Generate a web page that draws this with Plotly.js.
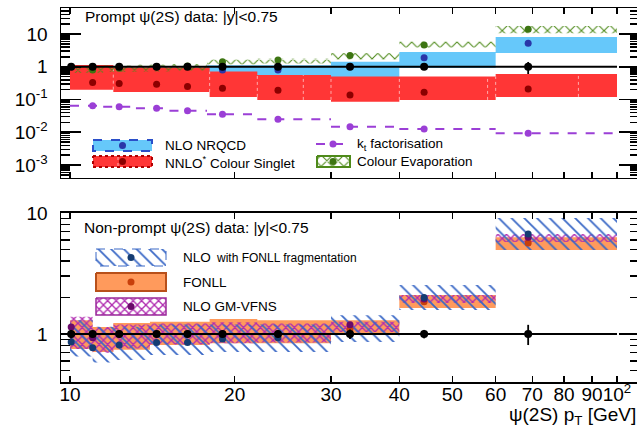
<!DOCTYPE html>
<html>
<head>
<meta charset="utf-8">
<script src="https://cdn.plot.ly/plotly-3.0.1.min.js"></script>
<style>html,body{margin:0;padding:0;overflow:hidden;background:#fff}</style>
</head>
<body>
<div id="chart"></div>
<script>
// ---------- data: ratios theory / data for psi(2S), |y| < 0.75 ----------
// measured points (ratio to data is 1 by construction)
const dataPt      = [10.05, 11.0, 12.3, 14.4, 16.4, 19.0, 24.0, 32.5, 44.4, 68.8];
const dataRatio   = [1, 1, 1, 1, 1, 1, 1, 1, 1, 1];
const promptErr   = [0.05, 0.04, 0.04, 0.04, 0.05, 0.05, 0.06, 0.08, 0.20, 0.40];
const nonPromptErr= [0.08, 0.06, 0.05, 0.05, 0.05, 0.06, 0.07, 0.09, 0.08, 0.19];

// prompt theory: points and bins
const thPt     = [11.0, 12.3, 14.4, 16.4, 19.0, 24.0, 32.5, 44.4, 68.8];
const thEdges  = [10, 11.5, 13.2, 15.2, 17.8, 22, 30, 40, 60, 100];
const ktVal    = [0.0647, 0.0603, 0.0538, 0.0455, 0.0353, 0.0248, 0.0148, 0.0126, 0.0093];
const cemVal   = [0.80, 0.90, 1.00, 1.05, 1.43, 1.60, 2.20, 4.60, 13.9];
const cemLo    = [0.65, 0.70, 0.72, 0.75, 1.20, 1.25, 1.60, 3.90, 10.5];
const cemHi    = [1.05, 1.10, 1.15, 1.20, 1.70, 1.75, 2.60, 5.80, 17.5];
const nrqcdVal = [null, null, null, null, 0.79, 0.79, 1.00, 1.88, 5.2];
const nrqcdLo  = [null, null, null, null, 0.56, 0.56, 0.44, 0.92, 2.63];
const nrqcdHi  = [null, null, null, null, 1.12, 1.12, 1.43, 2.82, 8.1];
const csVal    = [0.33, 0.31, 0.29, 0.25, 0.22, 0.19, 0.137, 0.165, 0.21];
const csEdges  = [10, 12, 18, 22, 26.7, 30, 40, 58, 60, 85, 100];
const csLo     = [0.20, 0.17, 0.12, 0.097, 0.097, 0.086, 0.097, 0.097, 0.12, 0.12];
const csHi     = [1.13, 0.95, 0.71, 0.56, 0.56, 0.50, 0.50, 0.50, 0.60, 0.60];

// non-prompt theory: points at data pT, bins
const npEdges  = [10, 11, 12, 14, 18, 22, 30, 40, 60, 100];
const nloVal   = [0.86, 0.77, 0.81, 0.85, 0.85, 0.91, 0.93, 1.00, 2.00, 6.7];
const nloLo    = [0.65, 0.58, 0.61, 0.67, 0.71, 0.71, 0.86, 1.58, 4.95];
const nloHi    = [1.30, 1.15, 1.15, 1.20, 1.20, 1.20, 1.43, 2.54, 9.10];
const fonllVal = [1.00, 0.95, 1.00, 1.00, 1.00, 1.00, 1.00, 1.10, 1.85, 5.65];
const fonllLo  = [0.75, 0.71, 0.74, 0.81, 0.84, 0.84, 1.02, 1.64, 4.95];
const fonllHi  = [1.30, 1.14, 1.23, 1.26, 1.33, 1.30, 1.30, 2.10, 6.30];
const gmVal    = [1.14, 0.93, 1.00, 1.00, 1.00, 1.00, 1.00, 1.19, 1.95, 6.3];
const gmLo     = [0.75, 0.70, 0.76, 0.82, 0.84, 0.85, 1.04, 1.80, 5.76];
const gmHi     = [1.39, 1.14, 1.20, 1.22, 1.25, 1.22, 1.26, 2.10, 6.70];

// axis ticks
const xTickVals = [10, 20, 30, 40, 50, 60, 70, 80, 90, 100];
const xTickText = ['10', '20', '30', '40', '50', '60', '70', '80', '90', '10<sup>2</sup>'];
const yTopVals  = [0.001, 0.01, 0.1, 1, 10];
const yTopText  = ['10<sup>-3</sup>', '10<sup>-2</sup>', '10<sup>-1</sup>', '1', '10'];
const yBotVals  = [1, 10];
const yBotText  = ['1', '10'];

// ---------- helpers ----------
const FONT = 'Liberation Sans, Arial, Helvetica, sans-serif';

function boxes(edges, lo, hi) {
  const x = [], y = [];
  for (let i = 0; i < lo.length; i++) {
    if (lo[i] == null) continue;
    x.push(edges[i], edges[i + 1], edges[i + 1], edges[i], edges[i], null);
    y.push(lo[i], lo[i], hi[i], hi[i], lo[i], null);
  }
  return {x, y};
}
function steps(edges, v) {
  const x = [], y = [];
  for (let i = 0; i < v.length; i++) { x.push(edges[i], edges[i + 1], null); y.push(v[i], v[i], null); }
  return {x, y};
}
function separators(edges, lo, hi) {
  const x = [], y = [];
  for (let i = 1; i < lo.length; i++) {
    x.push(edges[i], edges[i], null);
    y.push(Math.max(lo[i - 1], lo[i]), Math.min(hi[i - 1], hi[i]), null);
  }
  return {x, y};
}
function minorLog(from, to) {
  const v = [];
  for (let e = from; e <= to; e++) for (let k = 2; k <= 9; k++) v.push(k * Math.pow(10, e));
  return v;
}
function band(b, ax, fill, pattern) {
  const t = {x: b.x, y: b.y, xaxis: ax[0], yaxis: ax[1], mode: 'lines', fill: 'toself',
             line: {width: 0}, fillcolor: fill, hoverinfo: 'skip'};
  if (pattern) t.fillpattern = pattern;
  return t;
}
function dots(x, y, ax, color, size) {
  return {x, y, xaxis: ax[0], yaxis: ax[1], mode: 'markers', marker: {color, size: size || 7}, hoverinfo: 'skip'};
}

const TOP = ['x2', 'y2'], BOT = ['x', 'y'], LEG = ['x3', 'y3'];

const traces = [];
// ---- prompt panel ----
traces.push(band(boxes(thEdges, nrqcdLo, nrqcdHi), TOP, '#66c8fa'));
traces.push(band(boxes(csEdges, csLo, csHi), TOP, '#ff3636'));
const sep = separators(csEdges, csLo, csHi);
traces.push({x: sep.x, y: sep.y, xaxis: 'x2', yaxis: 'y2', mode: 'lines',
             line: {color: 'rgba(255,200,200,0.8)', width: 1, dash: 'dot'}, hoverinfo: 'skip'});
traces.push(band(boxes(thEdges, cemLo, cemHi), TOP, 'rgba(0,0,0,0)',
                 {shape: 'x', fgcolor: '#4e8a1a', bgcolor: 'rgba(0,0,0,0)', size: 8, solidity: 0.25}));
const kt = steps(thEdges, ktVal);
traces.push({x: kt.x, y: kt.y, xaxis: 'x2', yaxis: 'y2', mode: 'lines',
             line: {color: '#9b3fd6', width: 2, dash: 'dash'}, hoverinfo: 'skip'});
traces.push(dots(thPt, ktVal, TOP, '#9b3fd6'));
traces.push(dots(thPt, nrqcdVal, TOP, '#2a36a8'));
traces.push(dots(thPt, csVal, TOP, '#8c0000'));
traces.push(dots(thPt, cemVal, TOP, '#3d7512'));
traces.push({x: [10, 100], y: [1, 1], xaxis: 'x2', yaxis: 'y2', mode: 'lines',
             line: {color: '#000', width: 2}, hoverinfo: 'skip'});
traces.push({x: dataPt, y: dataRatio, xaxis: 'x2', yaxis: 'y2', mode: 'markers',
             marker: {color: '#000', size: 8},
             error_y: {type: 'data', array: promptErr, color: '#000', thickness: 1.8, width: 0},
             hoverinfo: 'skip'});

// ---- non-prompt panel ----
traces.push(band(boxes(npEdges, fonllLo, fonllHi), BOT, '#ff9a5c'));
traces.push(band(boxes(npEdges, gmLo, gmHi), BOT, 'rgba(0,0,0,0)',
                 {shape: 'x', fgcolor: '#b02cb0', bgcolor: 'rgba(0,0,0,0)', size: 6, solidity: 0.4}));
traces.push(band(boxes(npEdges, nloLo, nloHi), BOT, 'rgba(0,0,0,0)',
                 {shape: '\\', fgcolor: '#3a68c6', bgcolor: 'rgba(0,0,0,0)', size: 9, solidity: 0.2}));
traces.push(dots(dataPt, fonllVal, BOT, '#c8400c'));
traces.push(dots(dataPt, gmVal, BOT, '#6a0a6a'));
traces.push(dots(dataPt, nloVal, BOT, '#143c72'));
traces.push({x: [10, 100], y: [1, 1], xaxis: 'x', yaxis: 'y', mode: 'lines',
             line: {color: '#000', width: 2}, hoverinfo: 'skip'});
traces.push({x: dataPt, y: dataRatio, xaxis: 'x', yaxis: 'y', mode: 'markers',
             marker: {color: '#000', size: 8},
             error_y: {type: 'data', array: nonPromptErr, color: '#000', thickness: 1.8, width: 0},
             hoverinfo: 'skip'});

// ---- legend swatches (pixel frame of the plot area) ----
function rect(x0, y0, x1, y1) { return {x: [x0, x1, x1, x0, x0], y: [y0, y0, y1, y1, y0]}; }
function swatch(r, fill, line, pattern) {
  const t = {x: r.x, y: r.y, xaxis: 'x3', yaxis: 'y3', mode: 'lines', fill: 'toself',
             fillcolor: fill, line: line, hoverinfo: 'skip'};
  if (pattern) t.fillpattern = pattern;
  return t;
}
traces.push(swatch(rect(93, 140, 152, 151), '#66c8fa', {color: '#2a4fc9', width: 2, dash: 'dash'}));
traces.push(dots([122.5], [145.5], LEG, '#2a36a8'));
traces.push(swatch(rect(93, 156, 152, 167), '#ff3636', {color: '#b00000', width: 2, dash: 'dot'}));
traces.push({x: [118, 118], y: [157, 166], xaxis: 'x3', yaxis: 'y3', mode: 'lines',
             line: {color: 'rgba(255,200,200,0.8)', width: 1, dash: 'dot'}, hoverinfo: 'skip'});
traces.push(dots([122.5], [161.5], LEG, '#8c0000'));
traces.push({x: [316, 352], y: [144, 144], xaxis: 'x3', yaxis: 'y3', mode: 'lines',
             line: {color: '#9b3fd6', width: 2, dash: 'dash'}, hoverinfo: 'skip'});
traces.push(dots([333], [144], LEG, '#9b3fd6'));
traces.push(swatch(rect(317, 156, 350, 167), '#ffffff', {color: '#4e8a1a', width: 2},
                   {shape: 'x', fgcolor: '#4e8a1a', bgcolor: '#ffffff', size: 8, solidity: 0.25}));
traces.push(dots([333], [161.5], LEG, '#3d7512'));

traces.push(swatch(rect(96, 249, 166, 266), 'rgba(0,0,0,0)', {color: '#3a68c6', width: 1, dash: 'dash'},
                   {shape: '\\', fgcolor: '#3a68c6', bgcolor: 'rgba(0,0,0,0)', size: 9, solidity: 0.2}));
traces.push(dots([131], [257.5], LEG, '#143c72'));
traces.push(swatch(rect(96, 273, 166, 291), '#ff9a5c', {color: '#b8501a', width: 2}));
traces.push(dots([131], [282], LEG, '#c8400c'));
traces.push(swatch(rect(96, 298, 166, 315), 'rgba(0,0,0,0)', {color: '#9a2a9a', width: 1.5},
                   {shape: 'x', fgcolor: '#b02cb0', bgcolor: 'rgba(0,0,0,0)', size: 6, solidity: 0.4}));
traces.push(dots([131], [306.5], LEG, '#6a0a6a'));

// ---------- layout ----------
const PL = 61, PR = 639, PT = 8, PB = 382;
function label(text, xPx, yPx, size, anchor) {
  return {text, xref: 'paper', yref: 'paper', x: (xPx - PL) / (PR - PL), y: (PB - yPx) / (PB - PT),
          xanchor: anchor || 'left', yanchor: 'middle', showarrow: false,
          font: {size, family: FONT, color: '#000'}};
}

const xCommon = {
  type: 'log', range: [0.98355, 2.0402], tickmode: 'array', tickvals: xTickVals, ticktext: xTickText,
  tickangle: 0, ticks: 'inside', ticklen: 6, tickwidth: 1.5, tickcolor: '#000',
  showline: true, linecolor: '#000', linewidth: 1.5, mirror: 'ticks',
  showgrid: false, zeroline: false, tickfont: {size: 19, family: FONT, color: '#000'}
};
const yCommon = {
  type: 'log', tickmode: 'array', ticks: 'inside', ticklen: 20, tickwidth: 1.5, tickcolor: '#000',
  showline: true, linecolor: '#000', linewidth: 1.5, mirror: 'ticks',
  showgrid: false, zeroline: false, ticklabelstandoff: 8,
  tickfont: {size: 19, family: FONT, color: '#000'}
};

const layout = {
  width: 645, height: 434,
  margin: {l: PL, r: 645 - PR, t: PT, b: 434 - PB},
  paper_bgcolor: '#ffffff', plot_bgcolor: 'rgba(0,0,0,0)',
  showlegend: false,
  font: {family: FONT, size: 19, color: '#000'},
  xaxis: Object.assign({}, xCommon, {anchor: 'y', domain: [0, 1], ticklabelstandoff: -5}),
  xaxis2: Object.assign({}, xCommon, {anchor: 'y2', domain: [0, 1], matches: 'x', showticklabels: false}),
  yaxis: Object.assign({}, yCommon, {anchor: 'x', domain: [0, 0.4519], range: [-0.397, 1],
    tickvals: yBotVals, ticktext: yBotText,
    minor: {tickvals: minorLog(-1, 0), ticks: 'inside', ticklen: 9, tickwidth: 1.5, tickcolor: '#000', showgrid: false}}),
  yaxis2: Object.assign({}, yCommon, {anchor: 'x2', domain: [0.5455, 1], range: [-3.397, 1.794],
    tickvals: yTopVals, ticktext: yTopText,
    minor: {tickvals: minorLog(-4, 1), ticks: 'inside', ticklen: 9, tickwidth: 1.5, tickcolor: '#000', showgrid: false}}),
  xaxis3: {domain: [0, 1], anchor: 'y3', range: [PL, PR], visible: false, fixedrange: true},
  yaxis3: {domain: [0, 1], anchor: 'x3', range: [PB, PT], visible: false, fixedrange: true},
  annotations: [
    label('Prompt ψ(2S) data: |y|<0.75', 83, 17, 15.5),
    label('NLO NRQCD', 163, 145.5, 13.5),
    label('NNLO<sup>*</sup> Colour Singlet', 163, 161.5, 13.5),
    label('k<sub>t</sub> factorisation', 355, 144, 13.5),
    label('Colour Evaporation', 355, 161.5, 13.5),
    label('Non-prompt ψ(2S) data: |y|<0.75', 82, 227, 15.5),
    label('NLO', 181, 257.5, 13.5),
    label('with FONLL fragmentation', 214, 258, 12),
    label('FONLL', 181, 282, 13.5),
    label('NLO GM-VFNS', 181, 306.5, 13.5),
    label('ψ(2S) p<sub>T</sub> [GeV]', 507, 416, 19)
  ]
};

Plotly.newPlot('chart', traces, layout, {staticPlot: true, displayModeBar: false});
</script>
</body>
</html>
